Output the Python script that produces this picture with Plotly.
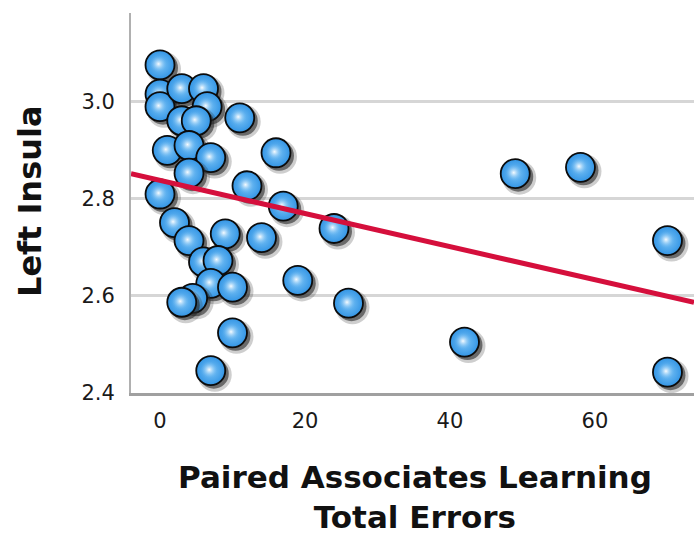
import plotly.graph_objects as go

# Paired Associates Learning total errors vs. left insula measure
pal_errors = [0, 0, 0, 3, 6, 6.5, 3, 5, 11, 1, 4, 7, 16, 4, 12, 17, 0, 2, 4, 9,
              14, 6, 8, 7, 10, 4.5, 3, 10, 7, 19, 24, 26, 42, 49, 58, 70, 70]
left_insula = [3.076, 3.016, 2.990, 3.027, 3.027, 2.990, 2.961, 2.961, 2.967, 2.900,
               2.910, 2.885, 2.895, 2.853, 2.827, 2.785, 2.810, 2.751, 2.714, 2.728,
               2.720, 2.670, 2.673, 2.626, 2.618, 2.595, 2.587, 2.524, 2.446, 2.632,
               2.739, 2.585, 2.505, 2.852, 2.865, 2.714, 2.443]

# linear fit line
fit_intercept = 2.838
fit_slope = -0.00341

x_ticks = [0, 20, 40, 60]
y_ticks = [2.4, 2.6, 2.8, 3.0]
x_range = [-4.0, 73.66]
y_range = [2.4, 3.183]

W, H = 694, 538
margin = dict(l=131, r=0, t=13, b=145)
plot_w = W - margin["l"] - margin["r"]
plot_h = H - margin["t"] - margin["b"]
# data units per screen pixel, used for shadow / highlight offsets
ux = (x_range[1] - x_range[0]) / plot_w
uy = (y_range[1] - y_range[0]) / plot_h

FONT = "DejaVu Sans"
fig = go.Figure()

for xv, yv in zip(pal_errors, left_insula):
    # soft outer shadow
    fig.add_trace(go.Scatter(
        x=[xv + 4 * ux], y=[yv - 4 * uy], mode="markers",
        marker=dict(size=34, color="rgba(30,30,30,0.22)", line_width=0),
        hoverinfo="skip", showlegend=False))
    # core shadow
    fig.add_trace(go.Scatter(
        x=[xv + 3 * ux], y=[yv - 3 * uy], mode="markers",
        marker=dict(size=30, color="rgba(40,40,40,0.6)", line_width=0),
        hoverinfo="skip", showlegend=False))
    # ball body
    fig.add_trace(go.Scatter(
        x=[xv], y=[yv], mode="markers",
        marker=dict(size=29, color="#3395e5",
                    gradient=dict(type="radial", color="#7cc4f6"),
                    line=dict(color="#0b0b0b", width=1.8)),
        showlegend=False))
    # specular highlight
    fig.add_trace(go.Scatter(
        x=[xv - 1.5 * ux], y=[yv + 1.0 * uy], mode="markers",
        marker=dict(size=17, color="rgba(100,180,242,0)",
                    gradient=dict(type="radial", color="rgba(255,255,255,0.95)"),
                    line_width=0),
        hoverinfo="skip", showlegend=False))

fit_x = list(x_range)
fit_y = [fit_intercept + fit_slope * v for v in fit_x]
fig.add_trace(go.Scatter(
    x=fit_x, y=fit_y, mode="lines",
    line=dict(color="#d50f3c", width=5), showlegend=False))

fig.update_layout(
    width=W, height=H, margin=margin,
    paper_bgcolor="white", plot_bgcolor="white",
    font=dict(family=FONT, color="#1a1a1a"),
    xaxis=dict(range=x_range, tickvals=x_ticks, showgrid=False, zeroline=False,
               showline=True, linecolor="#a0a0a0", linewidth=3,
               ticks="", ticklabelstandoff=7,
               tickfont=dict(family=FONT, size=21, color="#1a1a1a")),
    yaxis=dict(range=y_range, tickvals=y_ticks, tickformat=".1f",
               showgrid=True, gridcolor="#d6d6d6", gridwidth=2.5, zeroline=False,
               showline=True, linecolor="#b0b0b0", linewidth=2,
               ticks="", ticklabelstandoff=10,
               tickfont=dict(family=FONT, size=21, color="#1a1a1a")),
    annotations=[
        dict(text="Left Insula", textangle=-90, showarrow=False,
             xref="paper", yref="paper",
             x=(30 - margin["l"]) / plot_w, y=(H - margin["b"] - 201) / plot_h,
             xanchor="center", yanchor="middle",
             font=dict(family=FONT, size=32, weight="bold", color="#111")),
        dict(text="Paired Associates Learning<br>Total Errors", showarrow=False,
             xref="paper", yref="paper", align="center", borderpad=0,
             x=(415 - margin["l"]) / plot_w, y=(H - margin["b"] - 497) / plot_h,
             xanchor="center", yanchor="middle",
             font=dict(family=FONT, size=31, weight="bold", color="#111")),
    ],
)

fig.write_html("out.html")
